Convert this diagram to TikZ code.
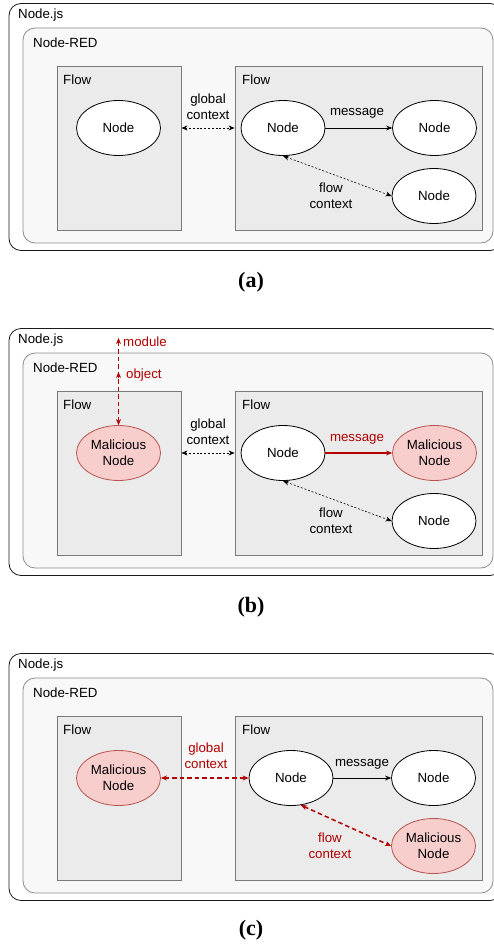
\documentclass[tikz,border=0pt]{standalone}
\usepackage{fontspec}
\newfontfamily\lsans{Liberation Sans}
\newfontfamily\capserif{Liberation Serif}
\usetikzlibrary{shapes.geometric,arrows.meta,calc}
\definecolor{darkred}{HTML}{B20000}
\definecolor{malfill}{HTML}{F8CECC}
\definecolor{malline}{HTML}{B85450}
\definecolor{redfill}{HTML}{F8F8F8}
\definecolor{redline}{HTML}{8C8C8C}
\definecolor{flowfill}{HTML}{EBEBEB}
\definecolor{flowline}{HTML}{7A7A7A}
\tikzset{
  outerbox/.style={draw=black!90, line width=0.8pt, fill=white, rounded corners=12pt, inner sep=0pt},
  redbox/.style={draw=redline, line width=0.8pt, fill=redfill, rounded corners=12pt, inner sep=0pt},
  flowbox/.style={draw=flowline, line width=0.9pt, fill=flowfill, inner sep=0pt},
  ell/.style={ellipse, draw=black, line width=0.8pt, fill=white, minimum width=84pt, minimum height=55pt, inner sep=0pt, align=center, font=\lsans\fontsize{13.3}{16}\selectfont},
  mal/.style={ell, fill=malfill, draw=malline},
  lbl/.style={inner sep=0pt, align=center, font=\lsans\fontsize{13.3}{16}\selectfont},
  rlbl/.style={lbl, text=darkred},
  tip/.style={>={Stealth[length=6pt,width=5pt]}},
  dotarrow/.style={tip, <->, line width=0.6pt, dash pattern=on 2pt off 1.8pt},
  msg/.style={tip, ->, line width=0.8pt},
  redmsg/.style={tip, ->, line width=1.2pt, draw=darkred},
  reddash/.style={tip, line width=1.5pt, draw=darkred, dash pattern=on 4.5pt off 3pt},
  redhead/.style={tip, ->, line width=1.5pt, draw=darkred},
  caption/.style={inner sep=0pt, font=\capserif\fontsize{22}{24}\selectfont\bfseries}
}
\begin{document}
\begin{tikzpicture}[x=1pt, y=-1pt]
\useasboundingbox (0,0) rectangle (494,944);
% ---------------- panel (a)
\begin{scope}
\node[outerbox, minimum width=493pt, minimum height=247pt] (aJS) at (255.5,127) {};
\node[redbox, minimum width=470pt, minimum height=215pt] (aRED) at (258,135.5) {};
\node[flowbox, minimum width=124pt, minimum height=164pt] (aFL) at (119,148) {};
\node[flowbox, minimum width=247pt, minimum height=164pt] (aFR) at (358.5,148) {};
\node[lbl, anchor=west] (aJSt) at (18,15) {Node.js};
\node[lbl, anchor=west] (aREDt) at (33,43) {Node-RED};
\node[lbl, anchor=west] (aFLt) at (63,80) {Flow};
\node[lbl, anchor=west] (aFRt) at (242,80) {Flow};
\node[ell] (aN0) at (118.5,128) {Node};
\node[ell] (aN1) at (283,128) {Node};
\node[ell] (aN2) at (434.5,128) {Node};
\node[ell] (aN3) at (434,196) {Node};
\draw[dotarrow] (aFL.east |- aN0) -- (aFR.west |- aN1);
\node[lbl] (aGC) at (208,106.5) {global\\context};
\draw[msg] (aN1) -- (aN2);
\node[lbl] (aMsg) at (357,113) {message};
\draw[dotarrow] (aN1.south) -- (aN3.west);
\node[lbl] (aFC) at (331,196) {flow\\context};
\node[caption] (aCap) at (251,282) {(a)};
\end{scope}
% ---------------- panel (b)
\begin{scope}[shift={(0,325)}]
\node[outerbox, minimum width=493pt, minimum height=247pt] (bJS) at (255.5,127) {};
\node[redbox, minimum width=470pt, minimum height=215pt] (bRED) at (258,135.5) {};
\node[flowbox, minimum width=124pt, minimum height=164pt] (bFL) at (119,148) {};
\node[flowbox, minimum width=247pt, minimum height=164pt] (bFR) at (358.5,148) {};
\node[lbl, anchor=west] (bJSt) at (18,15) {Node.js};
\node[lbl, anchor=west] (bREDt) at (33,43) {Node-RED};
\node[lbl, anchor=west] (bFLt) at (63,80) {Flow};
\node[lbl, anchor=west] (bFRt) at (242,80) {Flow};
\node[mal] (bN0) at (118.5,128) {Malicious\\Node};
\node[ell] (bN1) at (283,128) {Node};
\node[mal] (bN2) at (434.5,128) {Malicious\\Node};
\node[ell] (bN3) at (434,196) {Node};
\coordinate (bMod) at (118.5,13);
\coordinate (bObj) at (118.5,47);
\coordinate (bObjS) at (118.5,53);
\draw[reddash, <->] (bN0.north) -- (bMod);
\draw[redhead] (bObjS) -- (bObj);
\node[rlbl, anchor=west] (bModt) at (123,17) {module};
\node[rlbl, anchor=west] (bObjt) at (126,50) {object};
\draw[dotarrow] (bFL.east |- bN0) -- (bFR.west |- bN1);
\node[lbl] (bGC) at (208,106.5) {global\\context};
\draw[redmsg] (bN1) -- (bN2);
\node[rlbl] (bMsg) at (357,114) {message};
\draw[dotarrow] (bN1.south) -- (bN3.west);
\node[lbl] (bFC) at (331,196) {flow\\context};
\node[caption] (bCap) at (251,282) {(b)};
\end{scope}
% ---------------- panel (c)
\begin{scope}[shift={(0,650)}]
\node[outerbox, minimum width=493pt, minimum height=247pt] (cJS) at (255.5,127) {};
\node[redbox, minimum width=470pt, minimum height=215pt] (cRED) at (258,135.5) {};
\node[flowbox, minimum width=124pt, minimum height=164pt] (cFL) at (119,148) {};
\node[flowbox, minimum width=247pt, minimum height=164pt] (cFR) at (358.5,148) {};
\node[lbl, anchor=west] (cJSt) at (18,15) {Node.js};
\node[lbl, anchor=west] (cREDt) at (33,43) {Node-RED};
\node[lbl, anchor=west] (cFLt) at (63,80) {Flow};
\node[lbl, anchor=west] (cFRt) at (242,80) {Flow};
\node[mal] (cN0) at (118.5,128) {Malicious\\Node};
\node[ell] (cN1) at (291,128) {Node};
\node[ell] (cN2) at (433.5,128) {Node};
\node[mal] (cN3) at (433.5,196) {Malicious\\Node};
\draw[reddash, <->] (cN0) -- (cN1);
\node[rlbl] (cGC) at (206,105.5) {global\\context};
\draw[msg] (cN1) -- (cN2);
\node[lbl] (cMsg) at (362,114) {message};
\draw[reddash, <->] (cN1.-70) -- (cN3.west);
\node[rlbl] (cFC) at (330,195.5) {flow\\context};
\node[caption] (cCap) at (251,280) {(c)};
\end{scope}
\end{tikzpicture}
\end{document}
